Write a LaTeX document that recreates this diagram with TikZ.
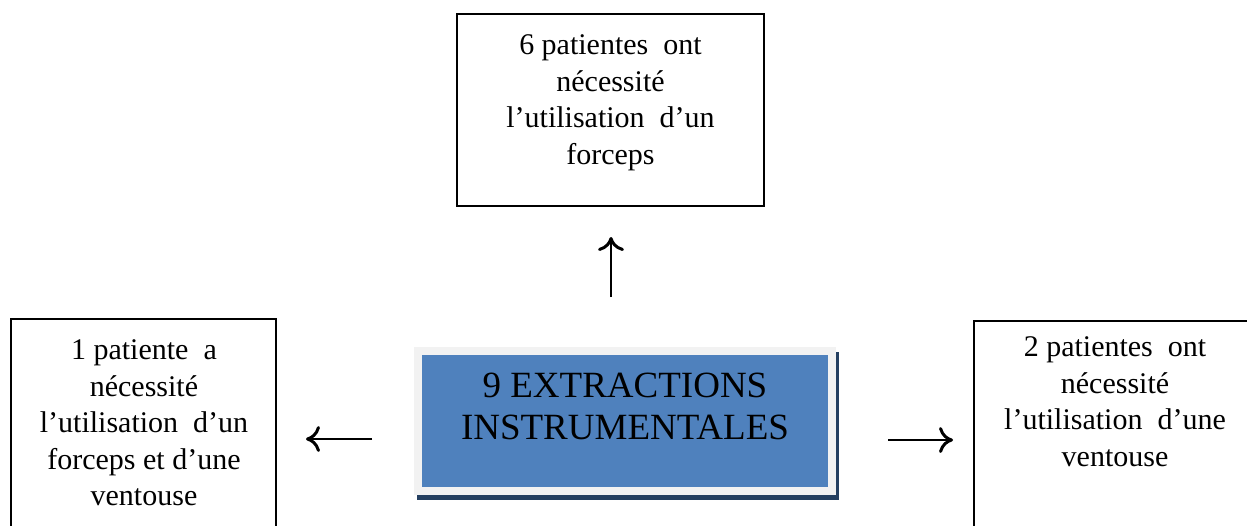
\documentclass[tikz,border=0pt]{standalone}
\usepackage{fontspec}
\setmainfont{Liberation Serif}
\usetikzlibrary{arrows.meta,backgrounds}
\definecolor{boxblue}{HTML}{4F81BD}
\definecolor{shadownavy}{HTML}{243F60}
\definecolor{framegray}{HTML}{F2F2F2}
\begin{document}
\begin{tikzpicture}[x=1pt,y=-1pt,
  plainbox/.style={draw=black, line width=1.6pt, inner sep=0pt, outer sep=0pt},
  boxtext/.style={align=center, inner sep=0pt, anchor=north, font=\fontsize{30}{36.6}\selectfont},
  mainbox/.style={fill=boxblue, draw=framegray, line width=8pt, inner sep=0pt, outer sep=0pt},
  maintext/.style={align=center, inner sep=0pt, anchor=north, font=\fontsize{37}{42}\selectfont},
  arr/.style={line width=2.8pt, -{Computer Modern Rightarrow[length=14pt,width=26pt,line width=3pt]}}
]
\clip (0,0) rectangle (1247,525);

% top box
\node[plainbox, minimum width=307pt, minimum height=192pt] (topbox) at (610.5,110) {};
\node[boxtext] (toptxt) at (610.5,34.5) {6 patientes\ \ ont\\nécessité\\l’utilisation\ \ d’un\\forceps};

% left box
\node[plainbox, minimum width=265pt, minimum height=226pt] (leftbox) at (143.5,432) {};
\node[boxtext] (lefttxt) at (144,339.5) {1 patiente\ \ a\\nécessité\\l’utilisation\ \ d’un\\forceps et d’une\\ventouse};

% right box
\node[plainbox, minimum width=282pt, minimum height=224pt] (rightbox) at (1115,433) {};
\node[boxtext] (righttxt) at (1115,336.5) {2 patientes\ \ ont\\nécessité\\l’utilisation\ \ d’une\\ventouse};

% main box
\node[mainbox, minimum width=414pt, minimum height=140pt] (main) at (625,421) {};
\node[maintext] (maintxt) at (625,372.5) {9 EXTRACTIONS\\INSTRUMENTALES};

\begin{scope}[on background layer]
  \fill[white] (0,0) rectangle (1247,525);
  \fill[shadownavy] ([xshift=-1pt,yshift=-1pt]main.north west) rectangle ([xshift=7pt,yshift=-9pt]main.south east);
\end{scope}

% arrows
\coordinate (upS) at (611,297);
\coordinate (upE) at (611,237);
\coordinate (leftS) at (372,439);
\coordinate (leftE) at (306,439);
\coordinate (rightS) at (888,440);
\coordinate (rightE) at (953,440);
\draw[arr] (upS) -- (upE);
\draw[arr] (leftS) -- (leftE);
\draw[arr] (rightS) -- (rightE);
\end{tikzpicture}
\end{document}
